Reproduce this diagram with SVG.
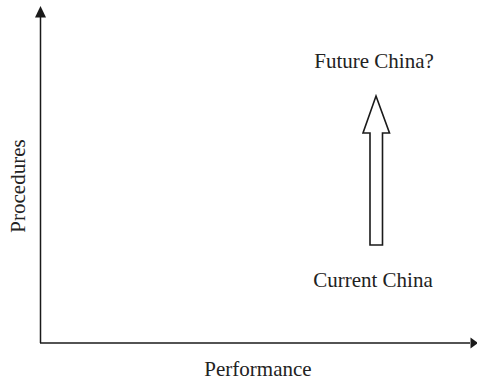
<svg xmlns="http://www.w3.org/2000/svg" width="477" height="382" viewBox="0 0 477 382">
  <style>
    .axis { stroke: #1a1a1a; stroke-width: 1.5; fill: none; }
    .head { fill: #1a1a1a; stroke: none; }
    .label { font-family: "Liberation Serif", "Times New Roman", serif; font-size: 21px; fill: #222; }
    .move { fill: #fff; stroke: #1a1a1a; stroke-width: 1.6; stroke-linejoin: miter; }
  </style>
  <rect width="477" height="382" fill="#fff"/>
  <g id="connectors">
    <!-- vertical axis -->
    <line class="axis" x1="40.5" y1="343" x2="40.5" y2="15"/>
    <polygon class="head" points="40.5,6 35,17.5 46,17.5"/>
    <!-- horizontal axis -->
    <line class="axis" x1="40" y1="343" x2="470" y2="343"/>
    <polygon class="head" points="478,343 470.5,337.5 470.5,348.5"/>
  </g>
  <g id="axis-y-label">
    <text class="label" text-anchor="middle" transform="translate(25,186) rotate(-90)">Procedures</text>
  </g>
  <g id="axis-x-label">
    <text class="label" x="258" y="376" text-anchor="middle">Performance</text>
  </g>
  <g id="future-china">
    <text class="label" x="374" y="68" text-anchor="middle">Future China?</text>
  </g>
  <g id="current-china">
    <text class="label" x="373" y="286.5" text-anchor="middle">Current China</text>
  </g>
  <g id="transition-arrow">
    <polygon class="move" points="376,96 389.5,133 382.5,133 382.5,245 370,245 370,133 363,133"/>
  </g>
</svg>
